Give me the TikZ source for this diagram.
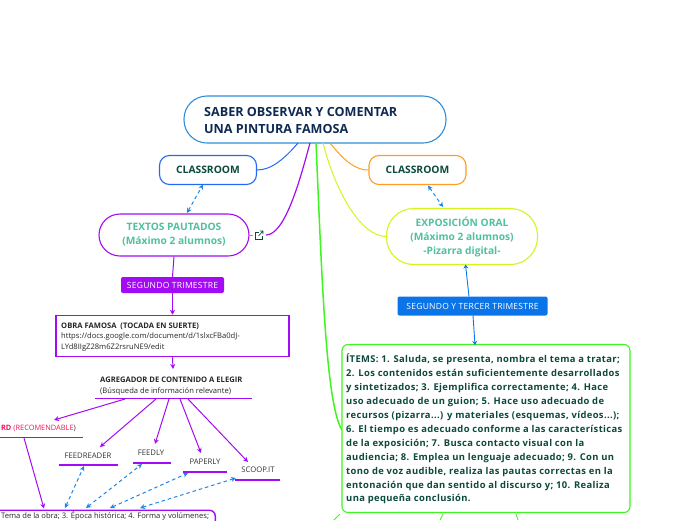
\documentclass[tikz,border=0pt]{standalone}
\usepackage{fontspec}
\setmainfont{Open Sans}
\usetikzlibrary{arrows.meta}
\definecolor{rootblue}{HTML}{2F8FD8}
\definecolor{navy}{HTML}{0F2A52}
\definecolor{darkgreen}{HTML}{0B4A3C}
\definecolor{tealtext}{HTML}{4FC1A0}
\definecolor{purp}{HTML}{A30BF5}
\definecolor{lblue}{HTML}{2469F5}
\definecolor{orng}{HTML}{FF9C22}
\definecolor{limeline}{HTML}{D2F520}
\definecolor{grn}{HTML}{3FF51F}
\definecolor{dashblue}{HTML}{1F86E8}
\definecolor{pinktext}{HTML}{F0135E}
\definecolor{btnblue}{HTML}{0A74E8}
\tikzset{
 x=1pt,y=-1pt,
 rootbox/.style={draw=rootblue,line width=1.1pt,rounded corners=23pt,fill=white,minimum width=262pt,minimum height=47pt,inner sep=0pt},
 pill/.style={line width=1.1pt,rounded corners=10pt,fill=white,minimum width=97pt,minimum height=29pt,inner sep=0pt,font=\fontsize{10.3}{12}\selectfont\bfseries,text=darkgreen},
 bigpill/.style={line width=1.1pt,fill=white,inner sep=0pt,font=\fontsize{10.2}{14}\selectfont\bfseries,text=tealtext,align=center},
 tag/.style={rounded corners=2pt,inner sep=0pt,text=white,font=\fontsize{8.5}{10}\selectfont\addfontfeature{LetterSpace=3}},
 plainlabel/.style={inner sep=0pt,font=\fontsize{7.7}{10}\selectfont,text=black!80},
 smalltext/.style={inner sep=0pt,anchor=north west,align=left,font=\fontsize{7.6}{10.5}\selectfont,text=black!85},
 uline/.style={line width=1.4pt,purp},
 arrowp/.style={purp,line width=1pt,-{Stealth[length=5pt,width=5pt]}},
 dasharrow/.style={dashblue,line width=1pt,dash pattern=on 3.5pt off 3pt,{Stealth[length=5pt,width=5pt]}-{Stealth[length=5pt,width=5pt]}},
 curve/.style={line width=1pt},
}
\begin{document}
\begin{tikzpicture}
\useasboundingbox (0,0) rectangle (696,520);
% curved branches from root
\coordinate (rb1) at (298,143);
\coordinate (rb2) at (310,143);
\coordinate (rb3) at (316,143);
\coordinate (rb4) at (323,143);
\coordinate (rb5) at (330,143);
\coordinate (linkend) at (266,235);
\coordinate (item6) at (342,430);
\node[rootbox] (root) at (315,119.5) {};
\node[inner sep=0pt,anchor=north west,text=navy,align=left,font=\fontsize{12.6}{17}\selectfont\bfseries] (roottext) at (204,107.5) {SABER OBSERVAR Y COMENTAR\\UNA PINTURA FAMOSA};
\node[pill,draw=lblue] (c1) at (208,170) {CLASSROOM};
\node[pill,draw=orng] (c2) at (417.5,170) {CLASSROOM};
\node[bigpill,draw=purp,rounded corners=21pt,minimum width=150pt,minimum height=42pt] (t1) at (174,235) {TEXTOS PAUTADOS\\(Máximo 2 alumnos)};
\node[bigpill,draw=limeline,rounded corners=27pt,minimum width=151pt,minimum height=56pt] (t2) at (462,236.5) {EXPOSICIÓN ORAL\\(Máximo 2 alumnos)\\-Pizarra digital-};
\draw[curve,lblue] (rb1) .. controls (285,158) and (272,170) .. (c1.east);
\draw[curve,orng] (rb5) .. controls (340,155) and (352,170) .. (c2.west);
\draw[curve,purp,line width=1.2pt] (rb2) .. controls (300,180) and (285,235) .. (linkend);
\draw[curve,limeline] (rb4) .. controls (335,190) and (360,236) .. (t2.west);
\draw[grn,line width=1.5pt] (rb3) .. controls (322,280) and (326,405) .. (item6);
% link icon
\begin{scope}[darkgreen,line width=.65pt]
\draw (258.5,232) -- (255,232) -- (255,239) -- (262,239) -- (262,235.5);
\draw (258.5,236) -- (263,231) (260,231) -- (263,231) -- (263,234);
\end{scope}
\draw[purp!60,line width=.8pt] (t1.east) -- (253,235);
% purple flow
\node[tag,fill=purp,minimum width=103pt,minimum height=16pt] (seg1) at (172.5,285) {SEGUNDO TRIMESTRE};
\node[draw=purp,line width=1.5pt,fill=white,minimum width=233pt,minimum height=41pt,inner sep=0pt] (obra) at (172.5,336) {};
\node[smalltext] (obratext) at (61,322.5) {\textbf{OBRA FAMOSA\ \ (TOCADA EN SUERTE)}\\https://docs.google.com/document/d/1slxcFBa0dJ-\\LYd8IIgZ28m6Z2rsruNE9/edit};
\node[smalltext] (agg) at (100,377) {\textbf{AGREGADOR DE CONTENIDO A ELEGIR}\\(Búsqueda de información relevante)};
\draw[purp,line width=1pt] (t1.south) -- (seg1.north);
\draw[purp,line width=1pt,-{Stealth[length=5pt,width=5pt]}] (seg1.south) -- (obra.north);
\coordinate (aggin) at (173,369);
\draw[arrowp] (obra.south) -- (aggin);
% underlines
\coordinate (u0a) at (95,398.5); \coordinate (u0b) at (252,398.5);
\draw[uline] (u0a) -- (u0b);
\coordinate (redA) at (0,437.5); \coordinate (redB) at (83,437.5);
\draw[uline] (redA) -- (redB);
\node[anchor=east,inner sep=0pt,font=\fontsize{7.4}{10}\selectfont] (red) at (76,428) {\textcolor{pinktext}{\textbf{RD} (RECOMENDABLE}\textcolor{black!80}{)}};
\node[plainlabel] (fr) at (88,456) {FEEDREADER};
\node[plainlabel] (fe) at (151,453) {FEEDLY};
\node[plainlabel] (pa) at (205,462) {PAPERLY};
\node[plainlabel] (sc) at (258,470) {SCOOP.IT};
\coordinate (frA) at (59,465); \coordinate (frB) at (118,465);
\coordinate (feA) at (133,463); \coordinate (feB) at (171,463);
\coordinate (paA) at (183,472); \coordinate (paB) at (227,472);
\coordinate (scA) at (235,480); \coordinate (scB) at (280,480);
\draw[uline] (frA) -- (frB);
\draw[uline] (feA) -- (feB);
\draw[uline] (paA) -- (paB);
\draw[uline] (scA) -- (scB);
\coordinate (s0) at (125,399); \coordinate (s1) at (156,399); \coordinate (s2) at (169,399); \coordinate (s3) at (180,399); \coordinate (s4) at (188,399);
\coordinate (e0) at (54,420); \coordinate (e1) at (100,447); \coordinate (e2) at (155,444); \coordinate (e3) at (201,453); \coordinate (e4) at (248,462);
\draw[arrowp] (s0) -- (e0);
\draw[arrowp] (s1) -- (e1);
\draw[arrowp] (s2) -- (e2);
\draw[arrowp] (s3) -- (e3);
\draw[arrowp] (s4) -- (e4);
% bottom box
\node[draw=purp,line width=1.4pt,rounded corners=6pt,fill=white,anchor=north east,minimum width=240pt,minimum height=40pt,inner sep=0pt] (bot) at (216,509.5) {};
\node[inner sep=0pt,anchor=west,font=\fontsize{7.6}{10}\selectfont,text=black!85] (bottext) at (1,516) {Tema de la obra; 3. Época histórica; 4. Forma y volúmenes;};
\coordinate (redout) at (24,438);
\coordinate (botin) at (44,508.5);
\draw[arrowp] (redout) -- (botin);
\coordinate (d1) at (65,508); \coordinate (d2) at (86,508); \coordinate (d3) at (110,508); \coordinate (d4) at (140,508);
\coordinate (f1) at (84,466); \coordinate (f2) at (142,464); \coordinate (f3) at (188,473); \coordinate (f4) at (236,478);
\draw[dasharrow] (d1) -- (f1);
\draw[dasharrow] (d2) -- (f2);
\draw[dasharrow] (d3) -- (f3);
\draw[dasharrow] (d4) -- (f4);
\coordinate (da) at (187,213);
\coordinate (db) at (203,184.5);
\draw[dasharrow] (da) -- (db);
\coordinate (dc) at (428,185.5);
\coordinate (dd) at (443,207);
\draw[dasharrow] (dc) -- (dd);
% blue flow
\node[tag,fill=btnblue,minimum width=150pt,minimum height=19pt] (seg2) at (472.5,306) {SEGUNDO Y TERCER TRIMESTRE};
\node[draw=grn,line width=1.1pt,rounded corners=6pt,fill=white,minimum width=288pt,minimum height=168pt,inner sep=0pt] (items) at (486,428.5) {};
\node[inner sep=0pt,anchor=north west,align=left,text=darkgreen,font=\fontsize{9.4}{13.9}\selectfont\bfseries\addfontfeature{LetterSpace=4}] (itemtext) at (346,354) {ÍTEMS: 1. Saluda, se presenta, nombra el tema a tratar;\\2. Los contenidos están suficientemente desarrollados\\y sintetizados; 3. Ejemplifica correctamente; 4. Hace\\uso adecuado de un guion; 5. Hace uso adecuado de\\recursos (pizarra...) y materiales (esquemas, vídeos...);\\6. El tiempo es adecuado conforme a las características\\de la exposición; 7. Busca contacto visual con la\\audiencia; 8. Emplea un lenguaje adecuado; 9. Con un\\tono de voz audible, realiza las pautas correctas en la\\entonación que dan sentido al discurso y; 10. Realiza\\una pequeña conclusión.};
\coordinate (t2in) at (465.5,264.5);
\coordinate (seg2top) at (469,296.5);
\coordinate (itin) at (475,345);
\coordinate (seg2bot) at (473,315.5);
\draw[btnblue,line width=.9pt,-{Stealth[length=4pt,width=5pt]}] (seg2top) -- (t2in);
\draw[btnblue,line width=.9pt,-{Stealth[length=4pt,width=5pt]}] (seg2bot) -- (itin);
% branches below items
\coordinate (i1) at (340,514); \coordinate (i2) at (334,520);
\coordinate (i3) at (443,514); \coordinate (i4) at (440,520);
\coordinate (i5) at (516,514); \coordinate (i6) at (518,520);
\draw[grn,line width=.9pt] (i1) -- (i2);
\draw[grn,line width=.9pt] (i3) -- (i4);
\draw[grn,line width=.9pt] (i5) -- (i6);
\end{tikzpicture}
\end{document}
